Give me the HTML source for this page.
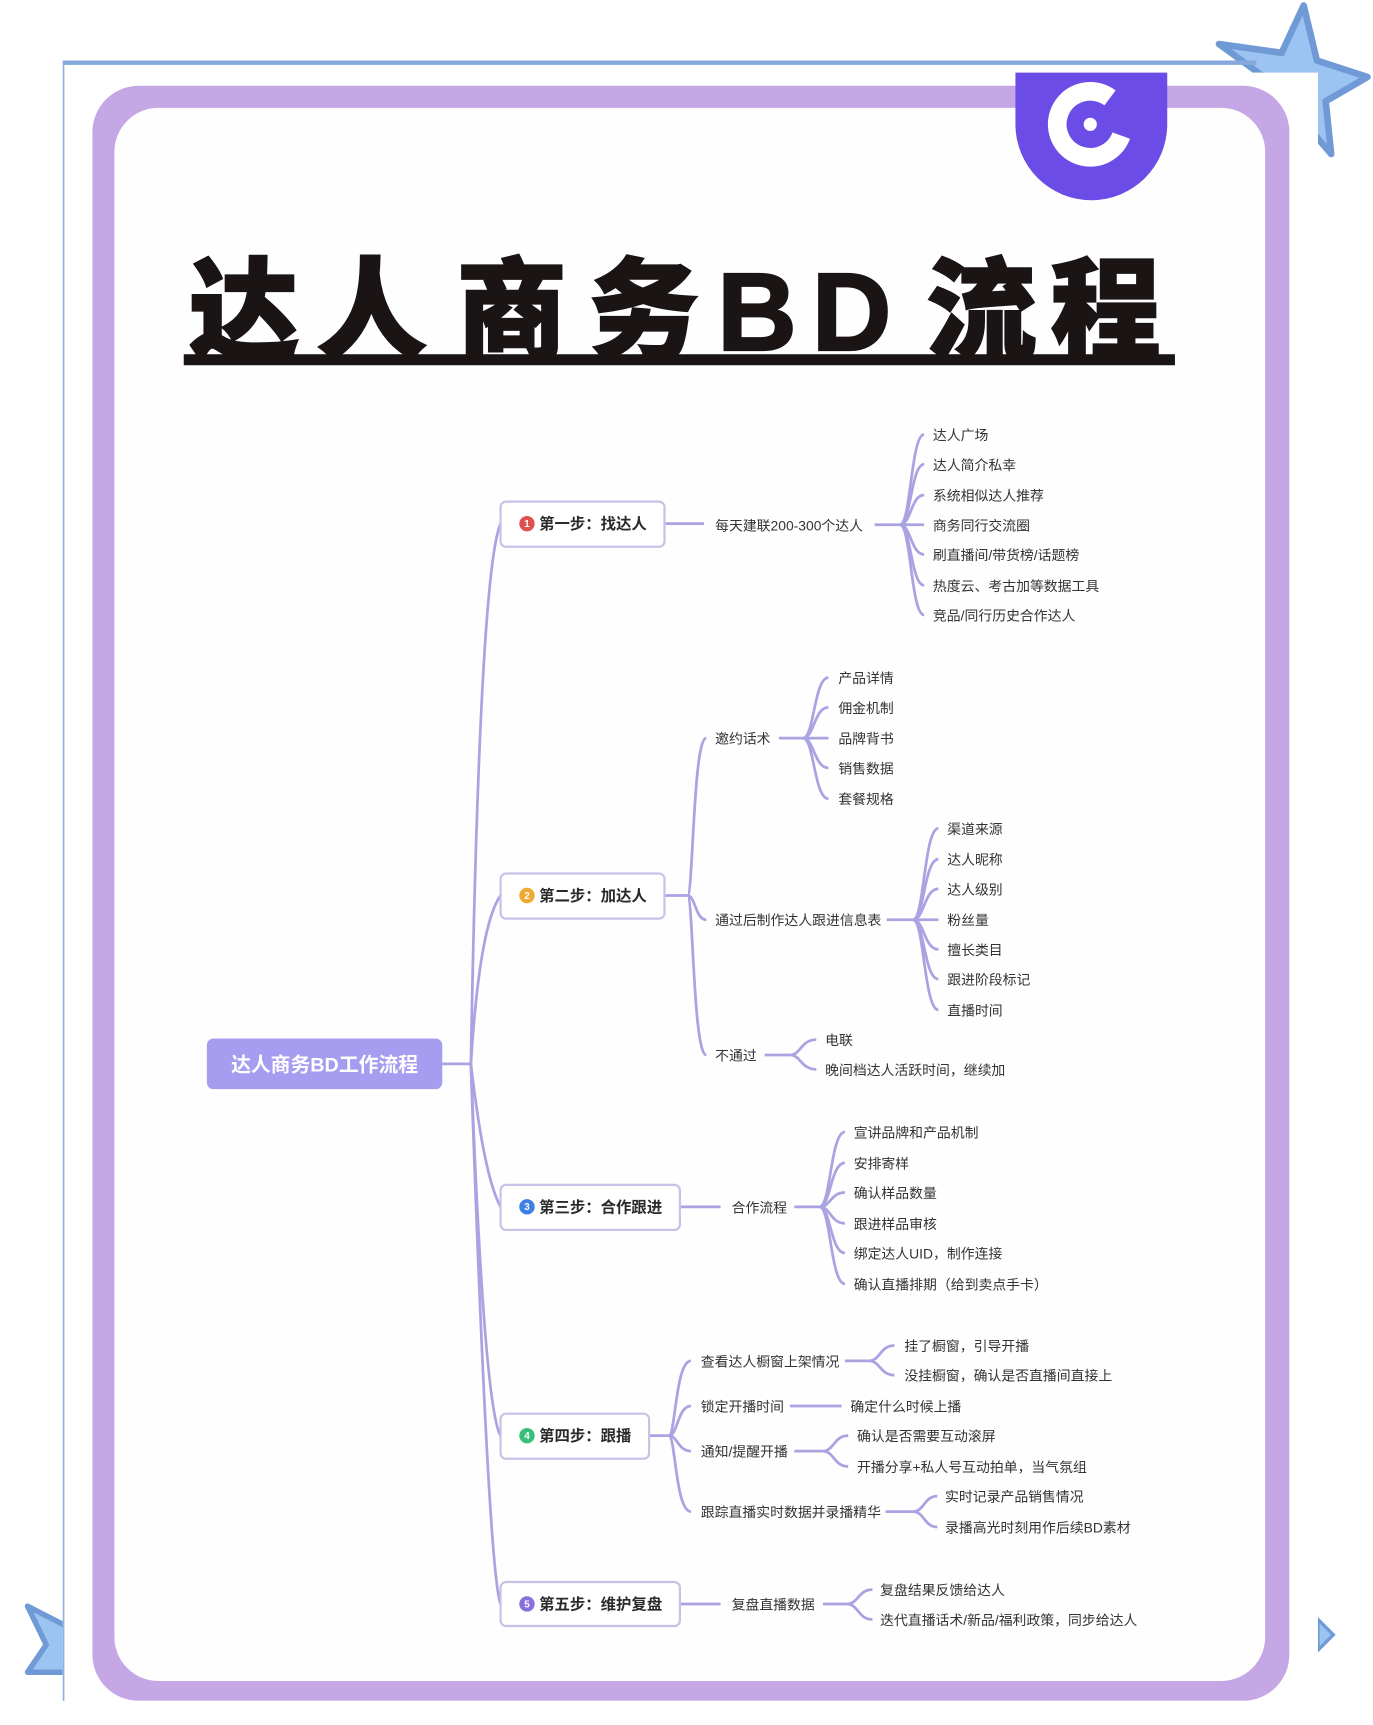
<!DOCTYPE html>
<html><head><meta charset="utf-8"><style>
html,body{margin:0;padding:0;background:#fff;}
svg{display:block}
text{font-family:"Liberation Sans","Noto Sans CJK SC",sans-serif;}
</style></head><body>
<svg width="1373" height="1725" viewBox="0 0 1248 1568" xmlns="http://www.w3.org/2000/svg">
<rect x="0" y="0" width="1248" height="1568" fill="#fff"/>
<polygon points="1185,5 1197,55 1243,70 1205,92 1210,140 1180,105 1130,108 1160,78 1108,40 1165,48" fill="#9cc4f2" stroke="#6f9ad6" stroke-width="6" stroke-linejoin="round"/>
<polygon points="25,1460 60,1478 60,1520 25,1520 42,1495" fill="#9cc4f2" stroke="#6f9ad6" stroke-width="5" stroke-linejoin="round"/>
<polygon points="1198,1472 1212,1486 1198,1500" fill="#9cc4f2" stroke="#6f9ad6" stroke-width="3"/>
<rect x="57" y="55" width="1085" height="4" fill="#86a8dc"/>
<rect x="57" y="66" width="1141" height="1480" fill="#fff"/>
<rect x="57" y="58" width="1.5" height="1488" fill="#8fb0e0"/>
<rect x="84" y="78" width="1088" height="1468" rx="42" fill="#c4a7e4"/>
<rect x="104" y="98" width="1046" height="1430" rx="40" fill="#fefefe"/>
<rect x="84" y="1546" width="1090" height="22" fill="#fff"/>
<path d="M923 66 H1061 V113 A69 69 0 0 1 923 113 Z" fill="#6b4ce6"/>
<circle cx="991" cy="113" r="30" fill="none" stroke="#fff" stroke-width="17" stroke-dasharray="150 40" transform="rotate(20 991 113)"/>
<circle cx="991" cy="113" r="13" fill="#6b4ce6"/>
<circle cx="991" cy="113" r="6" fill="#fff"/>
<g font-size="100" font-weight="900" fill="#1a1414" stroke="#1a1414" stroke-width="2" style='font-family:"Noto Sans CJK SC","Liberation Sans",sans-serif'>
<text x="172" y="318">达</text>
<text x="288" y="318">人</text>
<text x="415" y="318">商</text>
<text x="535" y="318">务</text>
<text x="652" y="318" style='font-family:"Liberation Sans",sans-serif' font-weight="bold">B</text>
<text x="738" y="318" style='font-family:"Liberation Sans",sans-serif' font-weight="bold">D</text>
<text x="842" y="318">流</text>
<text x="955" y="318">程</text>
</g>
<rect x="167" y="322" width="901" height="10" fill="#1a1414"/>

<g fill="none" stroke="#aaa3e2" stroke-width="2.5">
<path d="M402 967 H428"/>
<path d="M428 967 Q436 520 455 476"/>
<path d="M428 967 Q436 840 455 814"/>
<path d="M428 967 Q440 1070 455 1097"/>
<path d="M428 967 Q440 1280 455 1305"/>
<path d="M428 967 Q444 1430 455 1458"/>
<path d="M604 476 H640"/>
<path d="M795 477 H818"/>
<path d="M818 477 C828 477 828 395 840 395"/>
<path d="M818 477 C828 477 828 422 840 422"/>
<path d="M818 477 C828 477 828 450 840 450"/>
<path d="M818 477 H840"/>
<path d="M818 477 C828 477 828 504 840 504"/>
<path d="M818 477 C828 477 828 532 840 532"/>
<path d="M818 477 C828 477 828 559 840 559"/>
<path d="M604 814 H625"/>
<path d="M625 814 C630 814 630 671 642 671"/>
<path d="M625 814 C632 814 632 836 642 836"/>
<path d="M625 814 C630 814 630 959 642 959"/>
<path d="M708 671 H730"/>
<path d="M730 671 C740 671 740 616 753 616"/>
<path d="M730 671 C740 671 740 643 753 643"/>
<path d="M730 671 H753"/>
<path d="M730 671 C740 671 740 698 753 698"/>
<path d="M730 671 C740 671 740 726 753 726"/>
<path d="M806 836 H830"/>
<path d="M830 836 C840 836 840 753 853 753"/>
<path d="M830 836 C840 836 840 781 853 781"/>
<path d="M830 836 C840 836 840 808 853 808"/>
<path d="M830 836 H853"/>
<path d="M830 836 C840 836 840 863 853 863"/>
<path d="M830 836 C840 836 840 890 853 890"/>
<path d="M830 836 C840 836 840 918 853 918"/>
<path d="M695 959 H718"/>
<path d="M718 959 C728 959 728 945 742 945"/>
<path d="M718 959 C728 959 728 972 742 972"/>
<path d="M618 1097 H655"/>
<path d="M722 1097 H745"/>
<path d="M745 1097 C755 1097 755 1029 768 1029"/>
<path d="M745 1097 C755 1097 755 1057 768 1057"/>
<path d="M745 1097 C755 1097 755 1084 768 1084"/>
<path d="M745 1097 C755 1097 755 1112 768 1112"/>
<path d="M745 1097 C755 1097 755 1139 768 1139"/>
<path d="M745 1097 C755 1097 755 1167 768 1167"/>
<path d="M590 1305 H608"/>
<path d="M608 1305 C614 1305 614 1237 628 1237"/>
<path d="M608 1305 C616 1305 616 1278 628 1278"/>
<path d="M608 1305 C616 1305 616 1319 628 1319"/>
<path d="M608 1305 C614 1305 614 1374 628 1374"/>
<path d="M768 1237 H790"/>
<path d="M790 1237 C800 1237 800 1223 813 1223"/>
<path d="M790 1237 C800 1237 800 1250 813 1250"/>
<path d="M718 1278 H765"/>
<path d="M722 1319 H748"/>
<path d="M748 1319 C758 1319 758 1305 771 1305"/>
<path d="M748 1319 C758 1319 758 1333 771 1333"/>
<path d="M805 1374 H830"/>
<path d="M830 1374 C840 1374 840 1360 852 1360"/>
<path d="M830 1374 C840 1374 840 1388 852 1388"/>
<path d="M618 1458 H655"/>
<path d="M748 1458 H770"/>
<path d="M770 1458 C780 1458 780 1445 793 1445"/>
<path d="M770 1458 C780 1458 780 1472 793 1472"/>
</g>

<rect x="188" y="944" width="214" height="46" rx="6" fill="#a79df0"/>
<text x="295" y="974" font-size="18" font-weight="bold" fill="#fff" text-anchor="middle">达人商务BD工作流程</text>

<g stroke="#c8c2e8" stroke-width="2" fill="#fff">
<rect x="455" y="456" width="149" height="41" rx="5"/>
<rect x="455" y="794" width="149" height="41" rx="5"/>
<rect x="455" y="1077" width="163" height="41" rx="5"/>
<rect x="455" y="1285" width="135" height="41" rx="5"/>
<rect x="455" y="1438" width="163" height="40" rx="5"/>
</g>
<circle cx="479" cy="476" r="7" fill="#df5050"/>
<circle cx="479" cy="814" r="7" fill="#eeaa33"/>
<circle cx="479" cy="1097" r="7" fill="#3d7fe2"/>
<circle cx="479" cy="1305" r="7" fill="#38c07a"/>
<circle cx="479" cy="1458" r="7" fill="#8a70dd"/>
<g font-size="9" fill="#fff" text-anchor="middle" font-weight="bold">
<text x="479" y="479">1</text><text x="479" y="817">2</text><text x="479" y="1100">3</text><text x="479" y="1308">4</text><text x="479" y="1461">5</text>
</g>
<g font-size="14" font-weight="bold" fill="#2a2a2a">
<text x="490" y="481">第一步：找达人</text>
<text x="490" y="819">第二步：加达人</text>
<text x="490" y="1102">第三步：合作跟进</text>
<text x="490" y="1310">第四步：跟播</text>
<text x="490" y="1463">第五步：维护复盘</text>
</g>

<g font-size="12.6" fill="#333">
<text x="650" y="482">每天建联200-300个达人</text>
<text x="848" y="400">达人广场</text>
<text x="848" y="427">达人简介私幸</text>
<text x="848" y="455">系统相似达人推荐</text>
<text x="848" y="482">商务同行交流圈</text>
<text x="848" y="509">刷直播间/带货榜/话题榜</text>
<text x="848" y="537">热度云、考古加等数据工具</text>
<text x="848" y="564">竞品/同行历史合作达人</text>
<text x="650" y="676">邀约话术</text>
<text x="762" y="621">产品详情</text>
<text x="762" y="648">佣金机制</text>
<text x="762" y="676">品牌背书</text>
<text x="762" y="703">销售数据</text>
<text x="762" y="731">套餐规格</text>
<text x="650" y="841">通过后制作达人跟进信息表</text>
<text x="861" y="758">渠道来源</text>
<text x="861" y="786">达人昵称</text>
<text x="861" y="813">达人级别</text>
<text x="861" y="841">粉丝量</text>
<text x="861" y="868">擅长类目</text>
<text x="861" y="895">跟进阶段标记</text>
<text x="861" y="923">直播时间</text>
<text x="650" y="964">不通过</text>
<text x="750" y="950">电联</text>
<text x="750" y="977">晚间档达人活跃时间，继续加</text>
<text x="665" y="1102">合作流程</text>
<text x="776" y="1034">宣讲品牌和产品机制</text>
<text x="776" y="1062">安排寄样</text>
<text x="776" y="1089">确认样品数量</text>
<text x="776" y="1117">跟进样品审核</text>
<text x="776" y="1144">绑定达人UID，制作连接</text>
<text x="776" y="1172">确认直播排期（给到卖点手卡）</text>
<text x="637" y="1242">查看达人橱窗上架情况</text>
<text x="822" y="1228">挂了橱窗，引导开播</text>
<text x="822" y="1255">没挂橱窗，确认是否直播间直接上</text>
<text x="637" y="1283">锁定开播时间</text>
<text x="773" y="1283">确定什么时候上播</text>
<text x="637" y="1324">通知/提醒开播</text>
<text x="779" y="1310">确认是否需要互动滚屏</text>
<text x="779" y="1338">开播分享+私人号互动拍单，当气氛组</text>
<text x="637" y="1379">跟踪直播实时数据并录播精华</text>
<text x="859" y="1365">实时记录产品销售情况</text>
<text x="859" y="1393">录播高光时刻用作后续BD素材</text>
<text x="665" y="1463">复盘直播数据</text>
<text x="800" y="1450">复盘结果反馈给达人</text>
<text x="800" y="1477">迭代直播话术/新品/福利政策，同步给达人</text>
</g>
</svg>
</body></html>
